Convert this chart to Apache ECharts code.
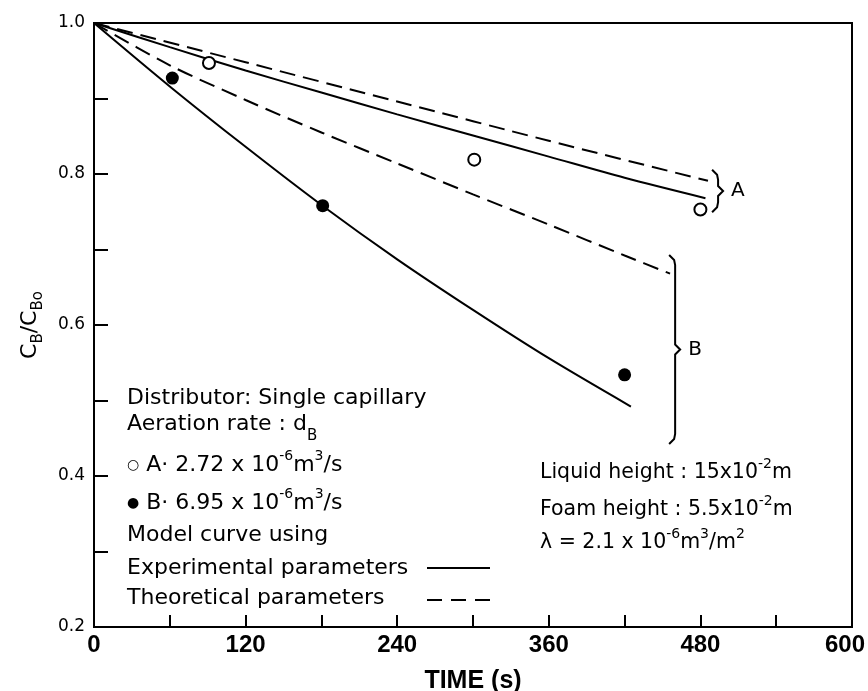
<!DOCTYPE html>
<html>
<head>
<meta charset="utf-8">
<script src="https://cdn.jsdelivr.net/npm/echarts/dist/echarts.min.js"></script>
<style>
html,body{margin:0;padding:0;background:#fff;}
#c{width:868px;height:691px;}
</style>
</head>
<body>
<div id="c"></div>
<script>
// ---- data ----
const xTickValues = [0, 120, 240, 360, 480, 600];
const yTickValues = [0.2, 0.4, 0.6, 0.8, 1.0];

// Model curve, experimental parameters, A
const expA_t = [0, 60, 120, 180, 240, 300, 360, 420, 484];
const expA_v = [1.0, 0.968, 0.937, 0.908, 0.879, 0.851, 0.823, 0.795, 0.768];
// Model curve, theoretical parameters, A
const theoA_t = [0, 120, 240, 360, 486];
const theoA_v = [1.0, 0.948, 0.896, 0.844, 0.791];
// Model curve, theoretical parameters, B
const theoB_t = [0, 60, 120, 180, 240, 300, 360, 420, 456];
const theoB_v = [1.0, 0.944, 0.898, 0.855, 0.814, 0.773, 0.733, 0.692, 0.668];
// Model curve, experimental parameters, B
const expB_t = [0, 60, 120, 180, 240, 300, 360, 425];
const expB_v = [1.0, 0.916, 0.836, 0.759, 0.687, 0.620, 0.556, 0.492];
// Measured points
const ptsA_t = [91, 301, 480];
const ptsA_v = [0.947, 0.819, 0.753];
const ptsB_t = [62, 181, 420];
const ptsB_v = [0.927, 0.758, 0.534];
// Braces grouping the curve ends
const braceNames = ['A', 'B'];
const braceT = [494, 460];
const braceTop = [0.803, 0.690];
const braceBottom = [0.752, 0.445];

// ---- helpers / styles ----
const pairs = (ts, vs) => ts.map((t, i) => [t, vs[i]]);
const FONT = '"DejaVu Sans", Verdana, sans-serif';
const NUMFONT = '"Liberation Sans Narrow", "Liberation Sans", Arial, sans-serif';
const BLACK = '#000';
const DASH = [16, 8];

const chart = echarts.init(document.getElementById('c'), null, {renderer: 'canvas'});

const rich = {
  sup: {fontSize: 14, fontFamily: FONT, verticalAlign: 'top', lineHeight: 14, fill: BLACK},
  sub: {fontSize: 15, fontFamily: FONT, verticalAlign: 'bottom', lineHeight: 15, fill: BLACK},
  sym: {fontSize: 14, fontFamily: FONT, fill: BLACK}
};
function txt(text, x, y, size, lh) {
  return {
    type: 'text', z: 100,
    style: {
      text: text, x: x, y: y, fontSize: size, fontFamily: FONT, fill: BLACK,
      verticalAlign: 'middle', align: 'left', lineHeight: lh || 32, rich: rich
    }
  };
}

const graphics = [
  txt('Distributor: Single capillary', 127, 398, 22),
  txt('Aeration rate : d{sub|B}', 127, 424, 22, 40),
  txt('{sym|○} A· 2.72 x 10{sup|-6}m{sup|3}/s', 127, 465, 22),
  txt('{sym|●} B· 6.95 x 10{sup|-6}m{sup|3}/s', 127, 503, 22),
  txt('Model curve using', 127, 535, 22),
  txt('Experimental parameters', 127, 568, 22),
  txt('Theoretical parameters', 127, 598, 22),
  {type: 'line', z: 100, shape: {x1: 427, y1: 568, x2: 490, y2: 568}, style: {stroke: BLACK, lineWidth: 2}},
  {type: 'line', z: 100, shape: {x1: 427, y1: 600, x2: 490, y2: 600}, style: {stroke: BLACK, lineWidth: 2, lineDash: [15, 9]}},
  txt('Liquid height : 15x10{sup|-2}m', 540, 473, 20.5),
  txt('Foam height : 5.5x10{sup|-2}m', 540, 510, 20.5),
  txt('λ = 2.1 x 10{sup|-6}m{sup|3}/m{sup|2}', 540, 543, 20.5)
];

function lineSeries(name, ts, vs, dashed) {
  return {
    name: name, type: 'line', data: pairs(ts, vs), smooth: 0.3, showSymbol: false,
    lineStyle: {color: BLACK, width: 2, type: dashed ? DASH : 'solid'}, z: 3
  };
}

const option = {
  animation: false,
  backgroundColor: '#fff',
  grid: {left: 94, right: 16, top: 23, bottom: 64, show: true, borderColor: BLACK, borderWidth: 2,
         containLabel: false, outerBoundsMode: 'none'},
  xAxis: {
    type: 'value', min: 0, max: 600, interval: 60,
    name: 'TIME (s)', nameLocation: 'middle', nameGap: 42,
    nameTextStyle: {fontFamily: NUMFONT, fontSize: 25, fontWeight: 'bold', color: BLACK},
    axisLine: {show: true, lineStyle: {color: BLACK, width: 2}},
    axisTick: {show: true, inside: true, length: 12, lineStyle: {color: BLACK, width: 2}},
    splitLine: {show: false},
    axisLabel: {
      fontFamily: NUMFONT, fontSize: 24, fontWeight: 'bold', color: BLACK, margin: 6,
      formatter: v => {
        if (xTickValues.indexOf(v) < 0) return '';
        return v === xTickValues[xTickValues.length - 1] ? '{last|' + v + '}' : String(v);
      },
      rich: {last: {fontFamily: NUMFONT, fontSize: 24, fontWeight: 'bold', color: BLACK, padding: [0, 14, 0, 0]}}
    }
  },
  yAxis: {
    type: 'value', min: 0.2, max: 1.0, interval: 0.1,
    name: 'C{sub|B}/C{sub|Bo}', nameLocation: 'middle', nameGap: 48, nameRotate: 90,
    nameTextStyle: {
      fontFamily: FONT, fontSize: 22, color: BLACK, lineHeight: 32,
      rich: {sub: {fontFamily: FONT, fontSize: 15, verticalAlign: 'bottom', lineHeight: 15, color: BLACK}}
    },
    axisLine: {show: true, lineStyle: {color: BLACK, width: 2}},
    axisTick: {show: true, inside: true, length: 14, lineStyle: {color: BLACK, width: 2}},
    splitLine: {show: false},
    axisLabel: {
      fontFamily: FONT, fontSize: 17, color: BLACK, margin: 9,
      formatter: v => {
        const hit = yTickValues.some(t => Math.abs(t - v) < 1e-6);
        return hit ? v.toFixed(1) : '';
      }
    }
  },
  series: [
    lineSeries('Experimental A', expA_t, expA_v, false),
    lineSeries('Theoretical A', theoA_t, theoA_v, true),
    lineSeries('Theoretical B', theoB_t, theoB_v, true),
    lineSeries('Experimental B', expB_t, expB_v, false),
    {
      name: 'A', type: 'scatter', data: pairs(ptsA_t, ptsA_v), symbol: 'circle', symbolSize: 12,
      itemStyle: {color: '#fff', borderColor: BLACK, borderWidth: 2, opacity: 1}, z: 5
    },
    {
      name: 'B', type: 'scatter', data: pairs(ptsB_t, ptsB_v), symbol: 'circle', symbolSize: 13,
      itemStyle: {color: BLACK, opacity: 1}, z: 5
    },
    {
      name: 'braces', type: 'custom', z: 6,
      dimensions: ['t', 'top', 'bottom'],
      encode: {x: 0, y: [1, 2]},
      data: braceT.map((t, i) => [t, braceTop[i], braceBottom[i]]),
      renderItem: (params, api) => {
        const p1 = api.coord([api.value(0), api.value(1)]);
        const p2 = api.coord([api.value(0), api.value(2)]);
        const x = p1[0], y1 = p1[1], y2 = p2[1], ym = (y1 + y2) / 2;
        return {
          type: 'group',
          children: [
            {
              type: 'polyline',
              shape: {points: [[x - 6, y1 - 2], [x - 1, y1 + 3], [x, y1 + 8], [x, ym - 5], [x + 5, ym],
                               [x, ym + 5], [x, y2 - 8], [x - 1, y2 - 3], [x - 6, y2 + 2]]},
              style: {stroke: BLACK, lineWidth: 2, fill: null}
            },
            {
              type: 'text',
              style: {text: braceNames[params.dataIndex], x: x + 13, y: ym, verticalAlign: 'middle',
                      align: 'left', fontSize: 20, fontFamily: FONT, fill: BLACK}
            }
          ]
        };
      }
    }
  ],
  graphic: graphics
};
chart.setOption(option);
</script>
</body>
</html>
